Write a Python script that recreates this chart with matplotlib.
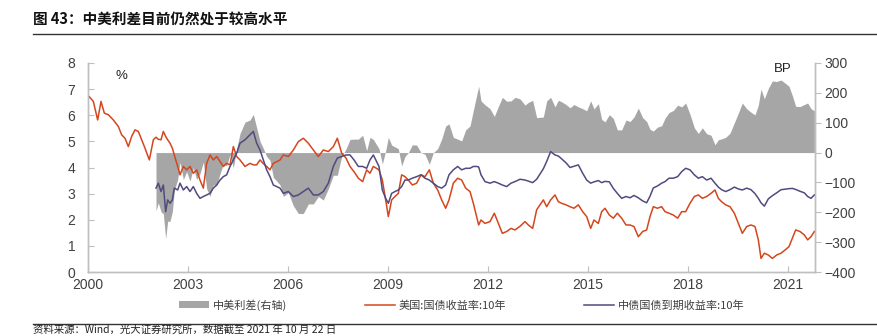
import numpy as np
import matplotlib
matplotlib.use("Agg")
import matplotlib.pyplot as plt
from matplotlib import font_manager
from matplotlib.lines import Line2D
from matplotlib.patches import Patch

nan = np.nan

# decimal years, US 10Y (%), China 10Y (%)
years = [2000.00, 2000.03, 2000.16, 2000.29, 2000.39, 2000.49, 2000.61, 2000.76, 2000.91, 2001.01,
         2001.11, 2001.21, 2001.31, 2001.41, 2001.51, 2001.61, 2001.71, 2001.84, 2001.96,
         2002.04, 2002.11, 2002.19, 2002.26, 2002.33, 2002.39, 2002.46, 2002.53, 2002.59, 2002.69,
         2002.76, 2002.86, 2002.96, 2003.06, 2003.16, 2003.26, 2003.36, 2003.46, 2003.56, 2003.66,
         2003.76, 2003.86, 2003.96, 2004.06, 2004.16, 2004.26, 2004.36, 2004.46, 2004.56, 2004.71,
         2004.86, 2004.96, 2005.06, 2005.16, 2005.26, 2005.36, 2005.46, 2005.56, 2005.66, 2005.76,
         2005.86, 2006.01, 2006.16, 2006.31, 2006.46, 2006.61, 2006.76, 2006.91, 2007.06, 2007.21,
         2007.36, 2007.48, 2007.61, 2007.74, 2007.86, 2007.98, 2008.11, 2008.24, 2008.36, 2008.46,
         2008.56, 2008.73, 2008.83, 2008.93, 2009.01, 2009.11, 2009.21, 2009.31, 2009.41, 2009.51,
         2009.61, 2009.73, 2009.86, 2009.99, 2010.11, 2010.24, 2010.36, 2010.49, 2010.61, 2010.73,
         2010.83, 2010.96, 2011.09, 2011.21, 2011.33, 2011.46, 2011.56, 2011.66, 2011.72, 2011.79,
         2011.91, 2012.06, 2012.19, 2012.31, 2012.43, 2012.56, 2012.69, 2012.81, 2012.96, 2013.11,
         2013.21, 2013.34, 2013.46, 2013.56, 2013.66, 2013.76, 2013.88, 2014.01, 2014.11, 2014.21,
         2014.34, 2014.46, 2014.58, 2014.71, 2014.84, 2014.96, 2015.08, 2015.18, 2015.31, 2015.41,
         2015.51, 2015.64, 2015.76, 2015.88, 2016.01, 2016.14, 2016.26, 2016.38, 2016.51, 2016.64,
         2016.76, 2016.86, 2016.96, 2017.08, 2017.21, 2017.31, 2017.43, 2017.56, 2017.69, 2017.81,
         2017.93, 2018.06, 2018.19, 2018.31, 2018.43, 2018.56, 2018.69, 2018.81, 2018.91, 2019.01,
         2019.13, 2019.26, 2019.39, 2019.51, 2019.63, 2019.76, 2019.89, 2020.01, 2020.11, 2020.19,
         2020.29, 2020.41, 2020.53, 2020.66, 2020.79, 2020.91, 2021.03, 2021.13, 2021.23, 2021.36,
         2021.49, 2021.59, 2021.69, 2021.79]

us_10y = [6.70, 6.72, 6.53, 5.82, 6.53, 6.08, 6.02, 5.82, 5.57, 5.25,
          5.12, 4.80, 5.19, 5.44, 5.38, 5.06, 4.74, 4.29, 5.06,
          5.16, 5.08, 5.06, 5.38, 5.19, 5.06, 4.93, 4.74, 4.48, 4.04,
          3.72, 4.04, 3.91, 4.04, 3.78, 3.91, 3.52, 3.21, 4.16, 4.48,
          4.29, 4.42, 4.23, 4.04, 4.16, 4.10, 4.80, 4.42, 4.29, 4.04,
          4.16, 4.10, 4.10, 4.29, 4.15, 4.04, 3.91, 4.16, 4.22, 4.29,
          4.48, 4.42, 4.67, 4.99, 5.12, 4.93, 4.67, 4.42, 4.67, 4.61,
          4.80, 5.12, 4.55, 4.36, 4.04, 3.84, 3.59, 3.46, 3.91, 3.78,
          4.04, 3.91, 3.52, 2.76, 2.12, 2.76, 2.89, 3.01, 3.72, 3.65,
          3.52, 3.33, 3.40, 3.72, 3.65, 3.91, 3.40, 3.14, 2.76, 2.44,
          2.76, 3.40, 3.59, 3.52, 3.21, 3.08, 2.63, 2.12, 1.80, 1.99,
          1.86, 1.93, 2.25, 1.86, 1.48, 1.55, 1.67, 1.61, 1.75, 1.93,
          1.80, 1.67, 2.38, 2.57, 2.76, 2.50, 2.76, 2.95, 2.69, 2.63,
          2.57, 2.50, 2.44, 2.57, 2.31, 2.12, 1.67, 1.99, 1.86, 2.31,
          2.44, 2.18, 2.06, 2.25, 2.06, 1.80, 1.80, 1.74, 1.35, 1.55,
          1.61, 2.12, 2.50, 2.44, 2.50, 2.31, 2.25, 2.18, 2.06, 2.31,
          2.31, 2.63, 2.89, 2.95, 2.82, 2.89, 3.01, 3.14, 2.82, 2.69,
          2.57, 2.50, 2.25, 1.86, 1.48, 1.74, 1.80, 1.74, 1.23, 0.52,
          0.72, 0.65, 0.52, 0.65, 0.72, 0.84, 0.97, 1.29, 1.61, 1.55,
          1.42, 1.23, 1.35, 1.55]

cn_10y = [nan, nan, nan, nan, nan, nan, nan, nan, nan, nan,
          nan, nan, nan, nan, nan, nan, nan, nan, nan,
          3.21, 3.40, 3.08, 3.33, 2.31, 2.76, 2.63, 2.76, 3.21, 3.14,
          3.40, 3.14, 3.27, 3.08, 3.27, 3.01, 2.82, 2.89, 2.95, 3.01,
          3.21, 3.33, 3.52, 3.65, 3.72, 4.04, 4.29, 4.55, 4.93, 5.06,
          5.25, 5.38, 4.93, 4.67, 4.29, 3.91, 3.65, 3.33, 3.27, 3.21,
          3.01, 3.08, 2.89, 2.95, 3.08, 3.21, 2.95, 2.95, 3.08, 3.40,
          4.04, 4.36, 4.42, 4.48, 4.48, 4.29, 4.04, 4.04, 3.97, 4.29,
          4.48, 4.04, 3.14, 2.82, 2.63, 3.01, 3.08, 3.14, 3.27, 3.52,
          3.52, 3.59, 3.65, 3.72, 3.59, 3.52, 3.40, 3.27, 3.21, 3.33,
          3.72, 3.91, 4.04, 3.91, 3.97, 3.97, 4.04, 4.04, 4.02, 3.72,
          3.46, 3.40, 3.46, 3.40, 3.33, 3.27, 3.40, 3.46, 3.55, 3.52,
          3.48, 3.42, 3.55, 3.75, 3.95, 4.23, 4.61, 4.48, 4.44, 4.33,
          4.18, 4.00, 4.05, 4.10, 3.78, 3.52, 3.40, 3.45, 3.50, 3.42,
          3.47, 3.45, 3.20, 3.01, 2.82, 2.89, 2.84, 2.93, 2.84, 2.72,
          2.65, 2.90, 3.22, 3.29, 3.40, 3.46, 3.59, 3.59, 3.65, 3.84,
          3.97, 3.91, 3.72, 3.59, 3.65, 3.52, 3.59, 3.40, 3.25, 3.15,
          3.08, 3.15, 3.25, 3.18, 3.14, 3.21, 3.15, 3.00, 2.82, 2.65,
          2.52, 2.80, 2.92, 3.03, 3.15, 3.17, 3.19, 3.20, 3.16, 3.09,
          3.03, 2.89, 2.82, 2.95]

year_ticks = [2000, 2003, 2006, 2009, 2012, 2015, 2018, 2021]

title = "图 43：中美利差目前仍然处于较高水平"
source = "资料来源：Wind，光大证券研究所，数据截至 2021 年 10 月 22 日"
labels = ["中美利差(右轴)", "美国:国债收益率:10年", "中债国债到期收益率:10年"]

RED = "#D4461E"
PURPLE = "#4F4B7F"
GRAY = "#A6A6A6"
AXC = "#BFBFBF"
TXT = "#404040"

have = {f.name for f in font_manager.fontManager.ttflist}
num_font = "Liberation Sans Narrow" if "Liberation Sans Narrow" in have else "Liberation Sans"
cjk = ["Noto Sans CJK SC", "DejaVu Sans"]
plt.rcParams["font.family"] = [num_font, "Noto Sans CJK SC", "DejaVu Sans"]

x = np.array(years)
us = np.array(us_10y)
cn = np.array(cn_10y)
spread = (cn - us) * 100  # bp

fig = plt.figure(figsize=(8.78, 3.36), dpi=100)
ax = fig.add_axes([88/878, 64/336, 727/878, 209/336])
ax2 = ax.twinx()
ax.set_zorder(ax2.get_zorder() + 1)
ax.patch.set_visible(False)

ax2.fill_between(x, 0, spread, color=GRAY, linewidth=0)
ax.plot(x, us, color=RED, lw=1.1)
ax.plot(x, cn, color=PURPLE, lw=1.1)

ax.set_xlim(2000, 2021.81)
ax.set_ylim(0, 8)
ax2.set_ylim(-400, 300)
ax.set_yticks(range(0, 9))
ax2.set_yticks(range(-400, 301, 100))
ax.set_xticks(year_ticks)
ax.set_xticklabels([str(y) for y in year_ticks])

for a in (ax, ax2):
    a.spines["top"].set_visible(False)
    for s in ("left", "right", "bottom"):
        a.spines[s].set_color(AXC)
        a.spines[s].set_linewidth(1.0)
ax.tick_params(axis="y", direction="in", length=4, color=AXC, labelcolor=TXT,
               labelsize=10, pad=9)
ax.tick_params(axis="x", direction="in", length=4, color=AXC, labelcolor=TXT,
               labelsize=10, pad=4)
ax2.tick_params(axis="y", direction="out", length=4, color=AXC, labelcolor=TXT,
                labelsize=10, pad=3)

ax.text(2001.0, 7.5, "%", ha="center", va="center", fontsize=9.5, color="#222222")
ax2.text(2020.85, 280, "BP", ha="center", va="center", fontsize=9.5, color="#222222")

handles = [Patch(facecolor=GRAY, edgecolor="none"),
           Line2D([], [], color=RED, lw=1.1),
           Line2D([], [], color=PURPLE, lw=1.1)]
fig.legend(handles, labels, loc="center", bbox_to_anchor=(462/878, 31/336), ncol=3,
           frameon=False, prop={"family": cjk, "size": 8}, labelcolor=TXT,
           handlelength=2.7, handleheight=0.6, handletextpad=0.35, columnspacing=7.0)

fig.text(33/878, 316/336, title, ha="left", va="center", fontsize=10.5,
         fontweight="bold", family=cjk, color="#111111")
fig.add_artist(Line2D([33/878, 1.0], [302/336, 302/336], color="#333333", lw=1.0))
fig.add_artist(Line2D([33/878, 1.0], [12/336, 12/336], color="#333333", lw=1.0))
fig.text(33/878, 1/336, source, ha="left", va="bottom", fontsize=7.5, family=cjk, color="#222222")

fig.savefig("out.png", dpi=100)
